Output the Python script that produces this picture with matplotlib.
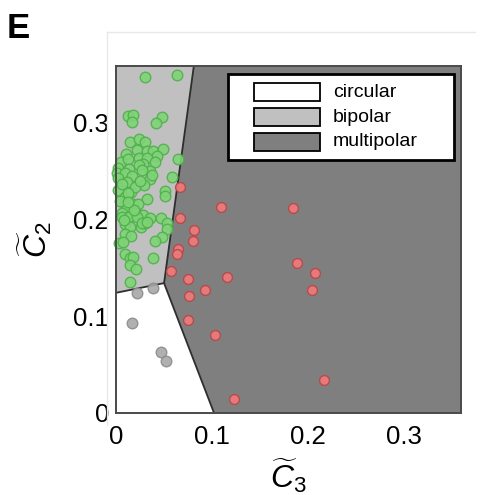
import matplotlib
matplotlib.use('Agg')
import matplotlib.pyplot as plt
from matplotlib.patches import Polygon, Rectangle
from matplotlib.lines import Line2D

plt.rcParams['font.family'] = ['Liberation Sans', 'DejaVu Sans']
plt.rcParams['mathtext.fontset'] = 'custom'
plt.rcParams['mathtext.rm'] = 'Liberation Sans'
plt.rcParams['mathtext.it'] = 'Liberation Sans:italic'

# ---------------- data ----------------
bipolar_c3 = [0.030, 0.063, 0.013, 0.018, 0.017, 0.048, 0.042, 0.015, 0.024, 0.030,
              0.022, 0.032, 0.039, 0.049, 0.043, 0.010, 0.005, 0.013, 0.024, 0.032,
              0.028, 0.041, 0.065, 0.002, 0.014, 0.024, 0.035, 0.001, 0.009, 0.017,
              0.027, 0.002, 0.011, 0.035, 0.058, 0.029, 0.002, 0.009, 0.016, 0.051,
              0.051, 0.032, 0.009, 0.018, 0.023, 0.011, 0.006, 0.015, 0.021, 0.028,
              0.006, 0.014, 0.022, 0.035, 0.047, 0.009, 0.015, 0.026, 0.030, 0.053,
              0.053, 0.009, 0.016, 0.048, 0.003, 0.007, 0.041, 0.009, 0.015, 0.018,
              0.039, 0.015, 0.021, 0.015, 0.008, 0.027, 0.032, 0.020, 0.012, 0.037,
              0.004, 0.019, 0.025, 0.006, 0.013]
bipolar_c2 = [0.347, 0.349, 0.306, 0.307, 0.300, 0.305, 0.299, 0.280, 0.283, 0.280,
              0.271, 0.270, 0.270, 0.272, 0.265, 0.267, 0.259, 0.262, 0.263, 0.263,
              0.257, 0.259, 0.262, 0.253, 0.252, 0.256, 0.250, 0.248, 0.248, 0.244,
              0.251, 0.242, 0.238, 0.241, 0.243, 0.235, 0.230, 0.223, 0.228, 0.229,
              0.224, 0.221, 0.216, 0.216, 0.216, 0.211, 0.206, 0.203, 0.206, 0.204,
              0.202, 0.202, 0.202, 0.201, 0.201, 0.195, 0.192, 0.192, 0.196, 0.196,
              0.190, 0.185, 0.183, 0.182, 0.175, 0.176, 0.177, 0.164, 0.160, 0.161,
              0.160, 0.153, 0.149, 0.135, 0.199, 0.196, 0.197, 0.233, 0.227, 0.246,
              0.219, 0.209, 0.239, 0.236, 0.218]

multipolar_c3 = [0.067, 0.109, 0.067, 0.081, 0.080, 0.065, 0.063, 0.057, 0.075, 0.116,
                 0.093, 0.076, 0.075, 0.103, 0.123, 0.184, 0.188, 0.207, 0.204, 0.216]
multipolar_c2 = [0.233, 0.213, 0.201, 0.189, 0.177, 0.169, 0.164, 0.146, 0.138, 0.140,
                 0.127, 0.121, 0.096, 0.080, 0.014, 0.211, 0.155, 0.144, 0.127, 0.034]

circular_c3 = [0.022, 0.039, 0.017, 0.047, 0.052]
circular_c2 = [0.124, 0.129, 0.093, 0.063, 0.054]

x_ticks = [0, 0.1, 0.2, 0.3]
x_tick_labels = ['0', '0.1', '0.2', '0.3']
y_ticks = [0, 0.1, 0.2, 0.3]
y_tick_labels = ['0', '0.1', '0.2', '0.3']

categories = ['circular', 'bipolar', 'multipolar']
region_colors = ['#ffffff', '#c0c0c0', '#7f7f7f']

# region boundary vertices (C3, C2)
left_point = (0.0, 0.124)
junction = (0.050, 0.134)
bottom_point = (0.102, 0.0)
top_c3 = 0.081

XMAX, YMAX = 0.359, 0.358

# ---------------- figure ----------------
fig = plt.figure(figsize=(4.81, 4.95), dpi=100)
ax = fig.add_axes([116 / 481, 1 - 413 / 495, 345 / 481, 347 / 495])
ax.set_xlim(0, XMAX)
ax.set_ylim(0, YMAX)
ax.set_facecolor(region_colors[2])

# faint outer box
fig.add_artist(Line2D([107 / 481, 107 / 481], [1 - 32 / 495, 1 - 425 / 495],
                      color='#e8e8e8', lw=1))
fig.add_artist(Line2D([107 / 481, 475 / 481], [1 - 32 / 495, 1 - 32 / 495],
                      color='#e8e8e8', lw=1))

circ = Polygon([(0, 0), bottom_point, junction, left_point], closed=True,
               facecolor=region_colors[0], edgecolor='none', zorder=1)
bip = Polygon([left_point, junction, (top_c3, YMAX), (0, YMAX)], closed=True,
              facecolor=region_colors[1], edgecolor='none', zorder=1)
ax.add_patch(circ)
ax.add_patch(bip)
bcol = '#2e2e2e'
ax.plot([left_point[0], junction[0]], [left_point[1], junction[1]], color=bcol, lw=1.3, zorder=2)
ax.plot([junction[0], bottom_point[0]], [junction[1], bottom_point[1]], color=bcol, lw=1.3, zorder=2)
ax.plot([junction[0], top_c3], [junction[1], YMAX], color=bcol, lw=1.3, zorder=2)

ax.scatter(bipolar_c3, bipolar_c2, s=58, facecolor='#7fd377', edgecolor='#4fb04a',
           linewidths=1.0, alpha=0.9, zorder=3, clip_on=False)
ax.scatter(multipolar_c3, multipolar_c2, s=50, facecolor='#ec7a7a', edgecolor='#b84848',
           linewidths=1.0, alpha=0.95, zorder=3)
ax.scatter(circular_c3, circular_c2, s=58, facecolor='#a8a8a8', edgecolor='#8c8c8c',
           linewidths=1.0, alpha=0.9, zorder=3)

for sp in ax.spines.values():
    sp.set_color('#4a4a4a')
    sp.set_linewidth(1.4)
    sp.set_zorder(5)

ax.set_xticks(x_ticks)
ax.set_xticklabels(x_tick_labels)
ax.set_yticks(y_ticks)
ax.set_yticklabels(y_tick_labels)
ax.tick_params(axis='both', length=0, labelsize=18.5)
ax.tick_params(axis='x', pad=9)
ax.tick_params(axis='y', pad=5)

ax.set_xlabel(r'$\widetilde{C}_3$', fontsize=23, labelpad=5)
ax.set_ylabel(r'$\widetilde{C}_2$', fontsize=23, labelpad=14)

# legend box (manual, axes coordinates)
ax.add_patch(Rectangle((0.3246, 0.729), 0.6551, 0.248, transform=ax.transAxes,
                       facecolor='white', edgecolor='black', lw=2, zorder=6))
row_y = [0.925, 0.853, 0.781]
for cat, col, yy in zip(categories, region_colors, row_y):
    ax.add_patch(Rectangle((0.40, yy - 0.0265), 0.191, 0.053, transform=ax.transAxes,
                           facecolor=col, edgecolor='black', lw=1.3, zorder=7))
    ax.text(0.629, yy, cat, transform=ax.transAxes, fontsize=14, va='center',
            ha='left', zorder=7)

fig.text(7 / 481, 1 - 38 / 495, 'E', fontsize=25, fontweight='bold', ha='left', va='baseline')

fig.savefig('out.png', dpi=100)
